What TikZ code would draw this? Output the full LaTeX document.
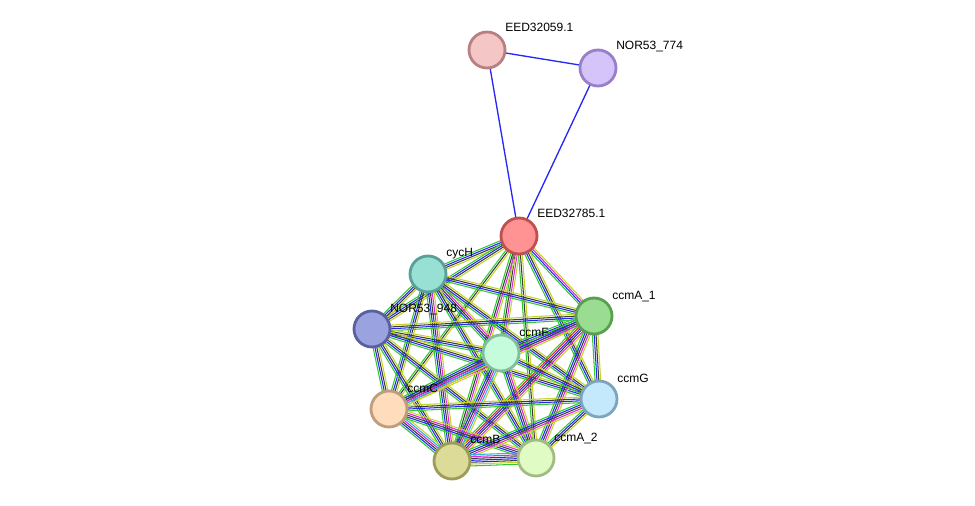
\documentclass[tikz,border=0pt]{standalone}
\usepackage{fontspec}
\setmainfont{Liberation Sans}
\usetikzlibrary{calc}
\pgfdeclarelayer{edges}
\pgfsetlayers{edges,main}
\definecolor{sgreen}{RGB}{50,200,50}
\definecolor{sblue}{RGB}{40,40,245}
\definecolor{sblack}{RGB}{60,60,60}
\definecolor{smag}{RGB}{220,40,220}
\definecolor{scyan}{RGB}{40,180,230}
\definecolor{syel}{RGB}{195,212,40}
\definecolor{sred}{RGB}{240,30,30}
% node colours
\definecolor{f59}{RGB}{245,198,198}\definecolor{d59}{RGB}{184,128,128}
\definecolor{f774}{RGB}{212,196,250}\definecolor{d774}{RGB}{152,128,200}
\definecolor{fE}{RGB}{255,146,146}\definecolor{dE}{RGB}{192,80,80}
\definecolor{fH}{RGB}{152,224,212}\definecolor{dH}{RGB}{88,160,152}
\definecolor{fN}{RGB}{154,162,224}\definecolor{dN}{RGB}{88,96,160}
\definecolor{fA1}{RGB}{154,220,146}\definecolor{dA1}{RGB}{88,160,80}
\definecolor{fF}{RGB}{196,252,220}\definecolor{dF}{RGB}{132,188,156}
\definecolor{fC}{RGB}{255,220,188}\definecolor{dC}{RGB}{191,156,124}
\definecolor{fG}{RGB}{196,232,252}\definecolor{dG}{RGB}{124,164,188}
\definecolor{fB}{RGB}{220,220,152}\definecolor{dB}{RGB}{156,156,88}
\definecolor{fA2}{RGB}{224,252,196}\definecolor{dA2}{RGB}{160,188,132}
\tikzset{
  protein/.style={circle, minimum size=27pt, inner sep=0pt, line width=2.1pt},
  plabel/.style={anchor=base west, font=\fontsize{9pt}{10pt}\selectfont, inner sep=0pt, text=black},
  eline/.style={line width=0.8pt}
}
\newcommand\sedge[3]{%
  \foreach \ecol [count=\ei] in {#3} {\xdef\enlines{\ei}}%
  \foreach \ecol [count=\ei] in {#3} {%
    \pgfmathsetmacro\eoff{(\ei-(\enlines+1)/2)*1.4}%
    \draw[eline, color=\ecol] ($(#1.center)!\eoff pt!90:(#2.center)$) -- ($(#2.center)!\eoff pt!-90:(#1.center)$);
  }%
}
\newcommand\pnode[3]{% name, x, y
  \node[protein, fill=f#1, draw=d#1] (#1) at (#2,#3) {};
}
\begin{document}
\begin{tikzpicture}[x=0.75pt,y=-0.75pt]
\useasboundingbox (0,0) rectangle (975,506);
% nodes
\pnode{59}{487}{50}
\pnode{774}{598}{68}
\pnode{E}{519}{236}
\pnode{H}{428}{274}
\pnode{N}{372}{329}
\pnode{A1}{594}{316}
\pnode{F}{501}{353}
\pnode{C}{389}{409}
\pnode{G}{599}{399}
\pnode{B}{452}{461}
\pnode{A2}{536}{458}
% labels
\node[plabel] (l59) at (505,32) {EED32059.1};
\node[plabel] (l774) at (616,50) {NOR53\_774};
\node[plabel] (lE) at (537,218) {EED32785.1};
\node[plabel] (lH) at (446,257) {cycH};
\node[plabel] (lN) at (390,312) {NOR53\_948};
\node[plabel] (lA1) at (612,299) {ccmA\_1};
\node[plabel] (lF) at (519,336) {ccmF};
\node[plabel] (lC) at (407,392) {ccmC};
\node[plabel] (lG) at (617,382) {ccmG};
\node[plabel] (lB) at (470,443) {ccmB};
\node[plabel] (lA2) at (554,441) {ccmA\_2};
% edges
\begin{pgfonlayer}{edges}
\begin{scope}[eline/.style={line width=1pt}]
\sedge{59}{774}{sblue}
\sedge{59}{E}{sblue}
\sedge{774}{E}{sblue}
\end{scope}
% EED32785.1
\sedge{E}{H}{sgreen,sblue,sblack,syel}
\sedge{E}{N}{sgreen,sblue,sblack,syel}
\sedge{E}{A1}{sgreen,sblue,smag,syel}
\sedge{E}{F}{sgreen,sblack,smag,syel}
\sedge{E}{C}{sgreen,sblack,syel}
\sedge{E}{G}{sgreen,sblue,sblack,syel}
\sedge{E}{B}{sgreen,sblack,smag,syel}
\sedge{E}{A2}{sgreen,sblack,syel}
% cycH
\sedge{H}{N}{sgreen,sblue,sblack,syel}
\sedge{H}{A1}{sgreen,sblue,sblack,syel}
\sedge{H}{F}{sgreen,sblue,sblack,smag,syel}
\sedge{H}{C}{sgreen,sblue,sblack,syel}
\sedge{H}{G}{sgreen,sblue,sblack,syel}
\sedge{H}{B}{sgreen,sblue,sblack,smag,syel}
\sedge{H}{A2}{sgreen,sblue,sblack,syel}
% NOR53_948
\sedge{N}{A1}{sgreen,sblue,sblack,syel}
\sedge{N}{F}{sgreen,sblue,sblack,syel}
\sedge{N}{C}{sgreen,sblue,sblack,syel}
\sedge{N}{G}{sgreen,sblue,sblack,syel}
\sedge{N}{B}{sgreen,sblue,sblack,syel}
\sedge{N}{A2}{sgreen,sblue,sblack,syel}
% ccmA_1
\sedge{A1}{F}{sgreen,sblue,sblack,smag,scyan,syel}
\sedge{A1}{C}{sgreen,sblue,sblack,smag,syel}
\sedge{A1}{G}{sgreen,sblue,sblack,syel}
\sedge{A1}{B}{sgreen,sred,sblue,sblack,smag,syel}
\sedge{A1}{A2}{sgreen,sblue,sblack,smag,syel}
% ccmF
\sedge{F}{C}{sgreen,sblue,sblack,smag,scyan,syel}
\sedge{F}{G}{sgreen,sblue,sblack,syel}
\sedge{F}{B}{sgreen,sblue,sblack,smag,scyan,syel}
\sedge{F}{A2}{sgreen,sblue,sblack,smag,syel}
% ccmC
\sedge{C}{G}{sgreen,sblue,sblack,syel}
\sedge{C}{B}{sgreen,sblue,sblack,smag,scyan,syel}
\sedge{C}{A2}{sgreen,sblue,sblack,smag,syel}
% ccmG
\sedge{G}{B}{sgreen,sblue,sblack,smag,syel}
\sedge{G}{A2}{sgreen,sblue,sblack,syel}
% ccmB
\sedge{B}{A2}{sgreen,syel,sblack,sblue,sblack,smag,scyan}
\end{pgfonlayer}
\end{tikzpicture}
\end{document}
